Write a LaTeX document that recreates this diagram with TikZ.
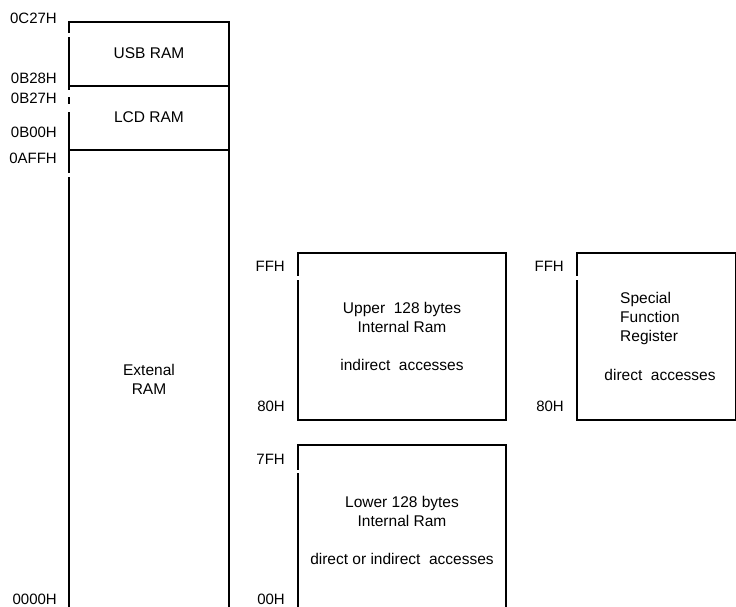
\documentclass[tikz,border=0pt]{standalone}
\usepackage{fontspec}
\setmainfont{Liberation Sans}
\usetikzlibrary{positioning}

\begin{document}
\begin{tikzpicture}[
      x=1pt, y=-1pt,
      mem/.style={draw=black, line width=1.1pt},
      addr/.style={anchor=east, inner sep=0pt, font=\fontsize{15}{17}\selectfont},
      txt/.style={align=center, inner sep=0pt, font=\fontsize{15.5}{19}\selectfont},
      gap/.style={fill=white}
    ]
    \useasboundingbox (0,0) rectangle (736,607);
    % external ram column
    \draw[mem] (69,607) -- (69,22) -- (229,22) -- (229,607);
    \draw[mem] (69,86) -- (229,86);
    \draw[mem] (69,150) -- (229,150);
    % internal ram and sfr
    \draw[mem] (298,253) rectangle (506,420);
    \draw[mem] (298,607) -- (298,445) -- (506,445) -- (506,607);
    \draw[mem] (577,253) rectangle (735.4,420);
    % breaks in the left edges
    \foreach \x/\a/\b in {69/33/37, 69/90/97, 69/104/112, 69/173/177, 298/276/280, 577/276/280, 298/470/473}
      \fill[gap] (\x-2,\a) rectangle (\x+2,\b);

    \node[txt] (usb) at (149,53) {USB RAM};
    \node[txt] (lcd) at (149,117) {LCD RAM};
    \node[txt] (ext) at (149,379) {Extenal\\RAM};
    \node[txt] (upper) at (402,336.5) {Upper\ \ 128 bytes\\Internal Ram\\[19pt]indirect\ \ accesses};
    \node[txt] (lower) at (402,530) {Lower 128 bytes\\Internal Ram\\[19pt]direct or indirect\ \ accesses};
    \node[txt, align=left, anchor=west] (sfr) at (620,318) {Special\\Function\\Register};
    \node[txt] (sfracc) at (660,375) {direct\ \ accesses};

    \node[addr] (a0c27) at (57,18) {0C27H};
    \node[addr] (a0b28) at (57,78) {0B28H};
    \node[addr] (a0b27) at (57,98) {0B27H};
    \node[addr] (a0b00) at (57,132) {0B00H};
    \node[addr] (a0aff) at (57,158) {0AFFH};
    \node[addr] (a0000) at (57,599) {0000H};
    \node[addr] (uff) at (285,266) {FFH};
    \node[addr] (u80) at (285,406) {80H};
    \node[addr] (l7f) at (285,459) {7FH};
    \node[addr] (l00) at (285,599) {00H};
    \node[addr] (sff) at (564,266) {FFH};
    \node[addr] (s80) at (564,406) {80H};
  \end{tikzpicture}
\end{document}
